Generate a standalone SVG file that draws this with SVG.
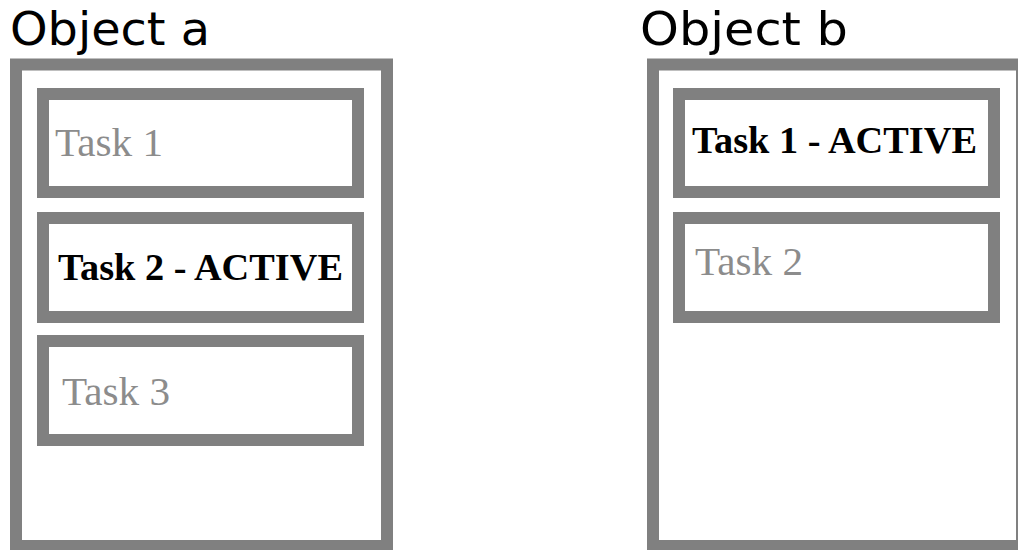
<svg xmlns="http://www.w3.org/2000/svg" width="1018" height="550" viewBox="0 0 1018 550">
  <style>
    .frame { fill: #ffffff; stroke: #808080; stroke-width: 12; }
    .title { font-family: "DejaVu Sans", Verdana, sans-serif; font-size: 47px; fill: #000000; }
    .idle { font-family: "Liberation Serif", "Times New Roman", serif; font-size: 41px; fill: #8c8c8c; }
    .active { font-family: "Liberation Serif", "Times New Roman", serif; font-size: 38px; font-weight: bold; fill: #000000; }
  </style>
  <rect width="1018" height="550" fill="#ffffff"/>

  <!-- Object a with three tasks -->
  <g id="object-a">
    <text class="title" x="10" y="45" textLength="200" lengthAdjust="spacingAndGlyphs">Object a</text>
    <rect class="frame" x="16" y="64.5" width="371" height="481.5"/>
  </g>
  <g id="a-task-1">
    <rect class="frame" x="43" y="94" width="315" height="98"/>
    <text class="idle" x="55" y="156" textLength="108" lengthAdjust="spacingAndGlyphs">Task 1</text>
  </g>
  <g id="a-task-2">
    <rect class="frame" x="43" y="218" width="315" height="99"/>
    <text class="active" x="58" y="280" textLength="285" lengthAdjust="spacingAndGlyphs">Task 2 - ACTIVE</text>
  </g>
  <g id="a-task-3">
    <rect class="frame" x="43" y="341" width="315" height="99"/>
    <text class="idle" x="62" y="405" textLength="108" lengthAdjust="spacingAndGlyphs">Task 3</text>
  </g>

  <!-- Object b with two tasks -->
  <g id="object-b">
    <text class="title" x="640" y="45" textLength="208" lengthAdjust="spacingAndGlyphs">Object b</text>
    <rect class="frame" x="653" y="64.5" width="369" height="481.5"/>
  </g>
  <g id="b-task-1">
    <rect class="frame" x="679" y="94" width="315" height="98"/>
    <text class="active" x="692" y="153" textLength="285" lengthAdjust="spacingAndGlyphs">Task 1 - ACTIVE</text>
  </g>
  <g id="b-task-2">
    <rect class="frame" x="679" y="218" width="315" height="99"/>
    <text class="idle" x="695" y="275" textLength="108" lengthAdjust="spacingAndGlyphs">Task 2</text>
  </g>

  <g id="connectors"/>
</svg>
